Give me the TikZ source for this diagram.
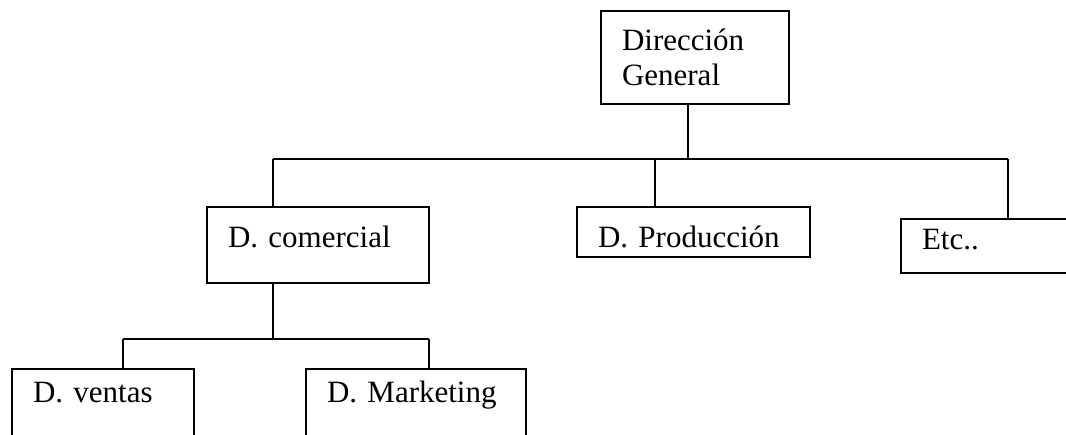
\documentclass[tikz,border=0pt]{standalone}
\usepackage{fontspec}
\setmainfont{Liberation Serif}
\usepackage{tikz}

\begin{document}
\begin{tikzpicture}[x=1pt,y=-1pt]
\tikzset{BoxStyle/.style={draw, line width=1.6pt, anchor=north west, align=left,
  inner xsep=21pt, inner ysep=0pt, outer sep=0pt,
  font=\fontsize{31}{35}\selectfont}}
\tikzset{LineStyle/.style={line width=1.6pt}}
\useasboundingbox (0,0) rectangle (1066,434);
\clip (0,0) rectangle (1066,434);
\node[BoxStyle, text width=146pt, text height=39pt, text depth=54pt] (dg) at (601,11) {Dirección\\General};
\node[BoxStyle, text width=180pt, text height=40pt, text depth=36pt] (com) at (207,207) {D. comercial};
\node[BoxStyle, text width=191pt, text height=40pt, text depth=10pt] (prod) at (577,207) {D. Producción};
\node[BoxStyle, text width=158pt, text height=30pt, text depth=24pt] (etc) at (901,219) {Etc..};
\node[BoxStyle, text width=140pt, text height=33pt, text depth=60pt] (ven) at (12,369) {D. ventas};
\node[BoxStyle, text width=178pt, text height=33pt, text depth=60pt] (mkt) at (306,369) {D. Marketing};
\coordinate (top) at (688,159);
\coordinate (left) at (273,159);
\coordinate (mid) at (655,159);
\coordinate (right) at (1008,159);
\coordinate (sub) at (273,339);
\coordinate (subL) at (123,339);
\coordinate (subR) at (429,339);
\draw[LineStyle] (top |- dg.south) -- (top);
\draw[LineStyle] (left) -- (right);
\draw[LineStyle] (left) -- (left |- com.north);
\draw[LineStyle] (mid) -- (mid |- prod.north);
\draw[LineStyle] (right) -- (right |- etc.north);
\draw[LineStyle] (sub |- com.south) -- (sub);
\draw[LineStyle] (subL) -- (subR);
\draw[LineStyle] (subL) -- (subL |- ven.north);
\draw[LineStyle] (subR) -- (subR |- mkt.north);
\end{tikzpicture}
\end{document}
